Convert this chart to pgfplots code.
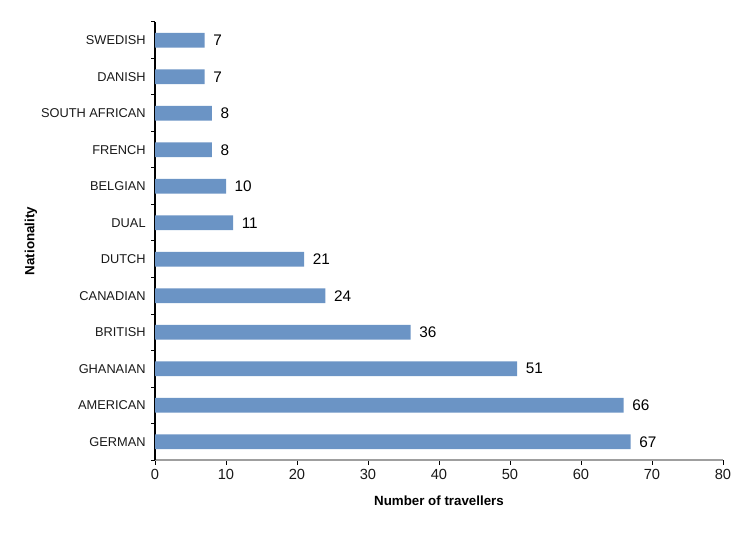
\documentclass[border=0pt]{standalone}
\usepackage{pgfplots}
\pgfplotsset{compat=1.18}
\usepackage{fontspec}
\setmainfont{Liberation Sans}
\definecolor{barblue}{RGB}{107,148,197}
\begin{document}
\begin{tikzpicture}[x=0.75pt,y=0.75pt]
\begin{axis}[
  name=ax,
  scale only axis,
  width=426pt, height=328.5pt,
  xbar, bar width=0.41,
  xmin=0, xmax=80,
  ymin=-0.5, ymax=11.5,
  xtick={0,10,...,80},
  ytick={0,...,11},
  yticklabels={GERMAN,AMERICAN,GHANAIAN,BRITISH,CANADIAN,DUTCH,DUAL,BELGIAN,FRENCH,SOUTH AFRICAN,DANISH,SWEDISH},
  minor ytick={-0.5,0.5,...,11.5},
  axis lines*=left,
  x axis line style={draw=gray!75, line width=0.9pt, -},
  y axis line style={draw=black, line width=0.9pt, -},
  tick align=outside,
  major tick length=3.5pt,
  minor tick length=3pt,
  major y tick style={draw=none},
  minor y tick style={draw=black, line width=0.75pt},
  major x tick style={draw=black, line width=0.75pt},
  ticklabel style={font=\fontsize{9.6}{11}\selectfont, text=black!90},
  /pgf/number format/assume math mode=true,
  xticklabel style={font=\fontsize{11}{12}\selectfont},
  xlabel={\textbf{Number of travellers}},
  ylabel={\textbf{Nationality}},
  label style={font=\fontsize{10}{12}\selectfont},
  xlabel style={yshift=-5pt},
  ylabel style={yshift=-4pt},
  nodes near coords,
  nodes near coords style={font=\fontsize{11.5}{13}\selectfont, xshift=3pt},
  clip=false,
]
\addplot[fill=barblue, draw=none] coordinates {
(67,0) (66,1) (51,2) (36,3) (24,4) (21,5) (11,6) (10,7) (8,8) (8,9) (7,10) (7,11)
};
\end{axis}
\pgfresetboundingbox
\path ([xshift=-116.25pt,yshift=-58.5pt]ax.south west) rectangle ([xshift=23.25pt,yshift=16.5pt]ax.north east);
\end{tikzpicture}
\end{document}
